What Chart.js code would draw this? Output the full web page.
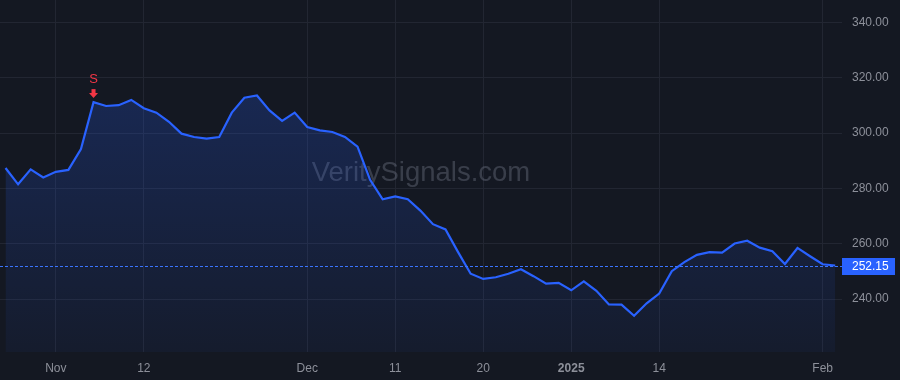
<!DOCTYPE html>
<html>
<head>
<meta charset="utf-8">
<script src="https://cdn.jsdelivr.net/npm/chart.js@4.4.1/dist/chart.umd.min.js"></script>
<style>
  html, body { margin: 0; padding: 0; background: #141822; }
</style>
</head>
<body>
<canvas id="myChart" width="900" height="380"></canvas>
<script>
// Trading days shown on the chart
const dates = [
  '2024-10-28', '2024-10-29', '2024-10-30', '2024-10-31',
  '2024-11-01', '2024-11-04', '2024-11-05', '2024-11-06', '2024-11-07', '2024-11-08',
  '2024-11-11', '2024-11-12', '2024-11-13', '2024-11-14', '2024-11-15', '2024-11-18',
  '2024-11-19', '2024-11-20', '2024-11-21', '2024-11-22', '2024-11-25', '2024-11-26',
  '2024-11-27', '2024-11-29',
  '2024-12-02', '2024-12-03', '2024-12-04', '2024-12-05', '2024-12-06', '2024-12-09',
  '2024-12-10', '2024-12-11', '2024-12-12', '2024-12-13', '2024-12-16', '2024-12-17',
  '2024-12-18', '2024-12-19', '2024-12-20', '2024-12-23', '2024-12-24', '2024-12-26',
  '2024-12-27', '2024-12-30', '2024-12-31',
  '2025-01-02', '2025-01-03', '2025-01-06', '2025-01-07', '2025-01-08', '2025-01-10',
  '2025-01-13', '2025-01-14', '2025-01-15', '2025-01-16', '2025-01-17', '2025-01-21',
  '2025-01-22', '2025-01-23', '2025-01-24', '2025-01-27', '2025-01-28', '2025-01-29',
  '2025-01-30', '2025-01-31',
  '2025-02-03', '2025-02-04'
];

// Closing prices
const prices = [
  287.4, 281.5, 286.9, 284.0, 286.0, 286.7, 294.2, 311.2, 309.8, 310.1,
  312.0, 309.0, 307.4, 304.1, 299.8, 298.6, 298.0, 298.6, 307.4, 312.8,
  313.6, 308.2, 304.4, 307.4, 302.2, 301.0, 300.4, 298.6, 295.1, 283.1,
  276.1, 277.1, 276.1, 272.0, 267.1, 265.2, 257.0, 249.2, 247.3, 247.9,
  249.2, 250.8, 248.3, 245.6, 245.9, 243.2, 246.4, 243.0, 238.1, 238.0,
  234.0, 238.5, 242.0, 250.1, 253.4, 256.0, 257.0, 256.8, 260.1, 261.1,
  258.6, 257.3, 252.7, 258.5, 255.5, 252.6, 252.15
];

// Axis ticks
const tickIdx = [4, 11, 24, 31, 38, 45, 52, 65];
const tickLabels = ['Nov', '12', 'Dec', '11', '20', '2025', '14', 'Feb'];
const yTicks = [240, 260, 280, 300, 320, 340];

const lastPrice = 252.15;
const signalIdx = 7;
const signalText = 'S';
const watermark = 'VeritySignals.com';

const BG = '#141822';
const GRID = '#222632';
const TEXT = '#8d909a';
const BLUE = '#2962ff';
const RED = '#f23645';
const FONT = "'Liberation Sans', Arial, sans-serif";

const points = prices.map((p, i) => ({ x: i, y: p }));

// Background, watermark, signal marker, last price line + label
const overlay = {
  id: 'overlay',
  beforeDraw(chart) {
    const c = chart.ctx;
    c.save();
    c.fillStyle = BG;
    c.fillRect(0, 0, chart.width, chart.height);
    c.restore();
  },
  beforeDatasetsDraw(chart) {
    const c = chart.ctx;
    const a = chart.chartArea;
    c.save();
    c.font = '27.5px ' + FONT;
    c.fillStyle = 'rgba(125, 131, 148, 0.36)';
    c.textAlign = 'center';
    c.textBaseline = 'middle';
    c.fillText(watermark, (a.left + a.right) / 2, (a.top + a.bottom) / 2 - 3);
    c.restore();
  },
  afterDatasetsDraw(chart) {
    const c = chart.ctx;
    const a = chart.chartArea;
    const xs = chart.scales.x;
    const ys = chart.scales.y;

    // last price dashed line
    const py = Math.round(ys.getPixelForValue(lastPrice)) + 0.5;
    c.save();
    c.strokeStyle = '#3a74ff';
    c.lineWidth = 1;
    c.setLineDash([3, 2]);
    c.beginPath();
    c.moveTo(a.left, py);
    c.lineTo(a.right, py);
    c.stroke();
    c.setLineDash([]);

    // price label on the axis
    c.fillStyle = BLUE;
    c.fillRect(a.right, py - 8.5, 53, 17);
    c.fillStyle = '#ffffff';
    c.font = '12px ' + FONT;
    c.textAlign = 'left';
    c.textBaseline = 'middle';
    c.fillText(lastPrice.toFixed(2), a.right + 10, py + 0.5);

    // sell marker
    const sx = xs.getPixelForValue(signalIdx);
    const sy = ys.getPixelForValue(prices[signalIdx]);
    c.fillStyle = RED;
    c.fillRect(sx - 2, sy - 13, 4, 5);
    c.beginPath();
    c.moveTo(sx - 4.5, sy - 9);
    c.lineTo(sx + 4.5, sy - 9);
    c.lineTo(sx, sy - 4);
    c.closePath();
    c.fill();
    c.font = '13px ' + FONT;
    c.textAlign = 'center';
    c.textBaseline = 'middle';
    c.fillText(signalText, sx, sy - 23);
    c.restore();
  }
};

const config = {
  type: 'line',
  data: {
    datasets: [{
      data: points,
      borderColor: BLUE,
      borderWidth: 2.2,
      pointRadius: 0,
      tension: 0,
      fill: 'start',
      backgroundColor: (ctx) => {
        const area = ctx.chart.chartArea;
        if (!area) return 'rgba(41, 98, 255, 0.2)';
        const g = ctx.chart.ctx.createLinearGradient(0, area.top, 0, area.bottom);
        g.addColorStop(0, 'rgba(41, 98, 255, 0.28)');
        g.addColorStop(1, 'rgba(41, 98, 255, 0.05)');
        return g;
      }
    }]
  },
  options: {
    responsive: false,
    animation: false,
    layout: { padding: 0 },
    plugins: {
      legend: { display: false },
      tooltip: { enabled: false }
    },
    scales: {
      x: {
        type: 'linear',
        min: -0.44,
        max: 66.54,
        border: { display: false },
        grid: { color: GRID, drawTicks: false },
        afterBuildTicks: (s) => { s.ticks = tickIdx.map(v => ({ value: v })); },
        afterFit: (s) => {
          s.height = 28;
          s.paddingLeft = 0;
          s.paddingRight = 0;
        },
        ticks: {
          autoSkip: false,
          maxRotation: 0,
          padding: 9,
          color: TEXT,
          font: (ctx) => ({
            family: FONT,
            size: 12,
            weight: ctx.tick && ctx.tick.value === 45 ? 'bold' : 'normal'
          }),
          callback: (v) => tickLabels[tickIdx.indexOf(v)]
        }
      },
      y: {
        position: 'right',
        min: 220.9,
        max: 348.1,
        border: { display: false },
        grid: { color: GRID, drawTicks: false },
        afterBuildTicks: (s) => { s.ticks = yTicks.map(v => ({ value: v })); },
        afterFit: (s) => {
          s.width = 58;
          s.paddingTop = 0;
          s.paddingBottom = 0;
        },
        ticks: {
          padding: 10,
          color: TEXT,
          font: { family: FONT, size: 12 },
          callback: (v) => v.toFixed(2)
        }
      }
    }
  },
  plugins: [overlay]
};

const ctx = document.getElementById('myChart').getContext('2d');
new Chart(ctx, config);
</script>
</body>
</html>
